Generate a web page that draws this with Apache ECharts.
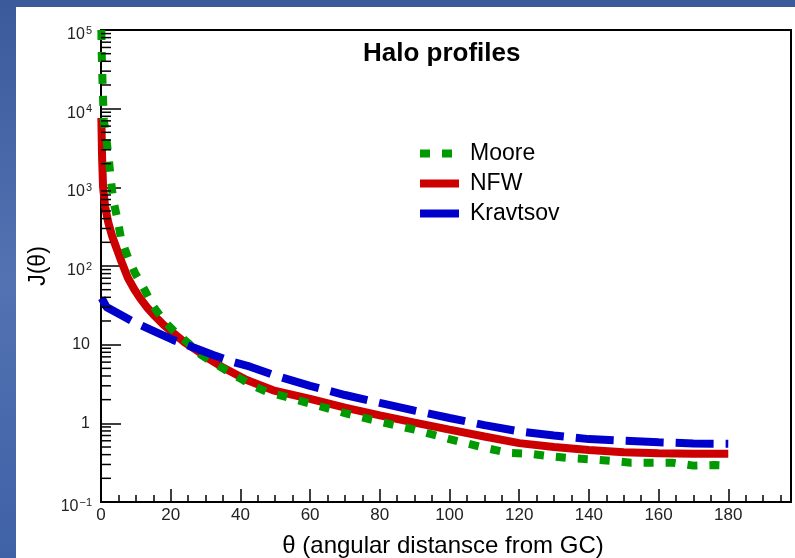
<!DOCTYPE html>
<html><head><meta charset="utf-8">
<script src="https://cdn.jsdelivr.net/npm/echarts@6/dist/echarts.min.js"></script>
<style>html,body{margin:0;padding:0;background:#4a6aa8}#c{width:795px;height:558px}</style>
</head><body><div id="c"></div>
<script>
// ---- data ----
const seriesNames = ['Moore', 'NFW', 'Kravtsov'];
const thetaMoore = [0.1, 0.2, 0.4, 0.6, 0.8, 1.6, 2.3, 2.9, 3.5, 4.8, 5.7, 7.8, 9.8, 12.6, 14.8, 18.1, 21.2, 25, 28.4, 32, 36, 40, 43.6, 48.2, 52.8, 60, 70, 80, 90, 100, 110, 117, 123, 129, 135, 140, 146, 152, 158, 164, 170, 176, 180];
const jMoore = [100000, 52000, 24500, 12900, 7240, 3980, 2140, 1175, 692, 380, 229, 126, 81, 49, 31.6, 20, 14.5, 10.5, 7.6, 6.0, 4.7, 3.7, 3.0, 2.45, 2.19, 1.78, 1.35, 1.05, 0.83, 0.63, 0.49, 0.42, 0.41, 0.38, 0.36, 0.35, 0.335, 0.316, 0.316, 0.316, 0.29, 0.295, 0.29];
const thetaNFW = [0.1, 0.3, 0.6, 1.2, 2.1, 3.2, 4.5, 6, 7.7, 9.5, 11.2, 13.3, 15.5, 18, 20.8, 24, 27.4, 31, 34.6, 41.8, 49.4, 60, 70, 80, 90, 100, 110, 120, 130, 140, 150, 160, 170, 180];
const jNFW = [7600, 2500, 1000, 562, 355, 240, 166, 110, 71, 51, 39, 29.5, 23, 17.8, 14, 10.7, 8.5, 6.6, 5.25, 3.55, 2.63, 2.04, 1.58, 1.26, 1.02, 0.83, 0.68, 0.56, 0.50, 0.457, 0.43, 0.417, 0.41, 0.41];
const thetaKravtsov = [0.2, 1.6, 6.4, 9.3, 16.4, 20.7, 27.5, 32.2, 38, 42.8, 49.9, 60, 70, 80, 90, 100, 110, 120, 130, 140, 150, 160, 170, 180];
const jKravtsov = [39, 30, 23, 19.5, 14, 11.5, 8.9, 7.4, 6.0, 5.25, 4.07, 3.0, 2.29, 1.82, 1.45, 1.17, 0.95, 0.79, 0.70, 0.63, 0.60, 0.575, 0.555, 0.55];
const xTickStep = 20;
const xMinorStep = 5;
const xMin = 0, xMax = 198;
const yMin = 0.1, yMax = 100000;

// minor tick positions of the log axis (2..9 x 10^n)
const yMinorTicks = [];
for (let e = -1; e < 5; e++) for (let m = 2; m <= 9; m++) yMinorTicks.push([0, m * Math.pow(10, e)]);

const zip = (xs, ys) => xs.map((x, i) => [x, ys[i]]);
const FONT = 'Liberation Sans';

const chart = echarts.init(document.getElementById('c'), null, {renderer: 'canvas'});
chart.setOption({
  animation: false,
  backgroundColor: {type: 'linear', x: 0, y: 0, x2: 0, y2: 1, colorStops: [
    {offset: 0, color: '#3a5a9b'}, {offset: 0.5, color: '#5272b2'}, {offset: 1, color: '#3f61a6'}]},
  graphic: [{type: 'rect', left: 16, top: 7, z: -100, shape: {width: 779, height: 551}, style: {fill: '#ffffff'}, silent: true}],
  title: {text: 'Halo profiles', left: 363, top: 41, padding: 0,
    textStyle: {fontFamily: FONT, fontWeight: 'bold', fontSize: 26, color: '#000'}},
  legend: {
    orient: 'vertical', left: 416, top: 142, padding: 0, itemWidth: 39, itemHeight: 23, itemGap: 7,
    textStyle: {fontFamily: FONT, fontSize: 23, color: '#000', padding: [0, 0, 0, 6]},
    data: [
      {name: 'Moore', lineStyle: {width: 8, type: [10, 12]}, itemStyle: {opacity: 0}},
      {name: 'NFW', lineStyle: {width: 8, type: 'solid'}, itemStyle: {opacity: 0}},
      {name: 'Kravtsov', lineStyle: {width: 8, type: 'solid'}, itemStyle: {opacity: 0}}
    ]
  },
  grid: {left: 101, top: 30, right: 4, bottom: 56, outerBoundsMode: 'none', containLabel: false,
    show: true, borderColor: '#000', borderWidth: 2, backgroundColor: 'transparent'},
  xAxis: [{
    type: 'value', min: xMin, max: xMax, interval: xTickStep, position: 'bottom',
    axisLine: {show: true, onZero: false, lineStyle: {color: '#000', width: 2}},
    axisTick: {show: true, inside: true, length: 13, lineStyle: {color: '#000', width: 1.5}},
    splitLine: {show: false},
    axisLabel: {showMaxLabel: false, margin: 5, fontFamily: FONT, fontSize: 17, color: '#222'},
    name: 'θ (angular distansce from GC)', nameLocation: 'middle', nameGap: 32, nameMoveOverlap: false,
    nameTextStyle: {fontFamily: FONT, fontSize: 24, color: '#000', padding: [0, 6, 0, 0]}
  }, {
    type: 'value', min: xMin, max: xMax, interval: xMinorStep, position: 'bottom',
    axisLine: {show: false}, axisLabel: {show: false}, splitLine: {show: false},
    axisTick: {show: true, inside: true, length: 7, lineStyle: {color: '#000', width: 1.5}}
  }],
  yAxis: {
    type: 'log', logBase: 10, min: yMin, max: yMax,
    axisLine: {show: true, onZero: false, lineStyle: {color: '#000', width: 2}},
    axisTick: {show: true, inside: true, length: 20, lineStyle: {color: '#000', width: 1.5}},
    splitLine: {show: false}, minorTick: {show: false},
    axisLabel: {
      margin: 9, color: '#222', fontFamily: FONT,
      formatter: function (v) {
        const e = Math.round(Math.log10(v));
        if (e === 0) return '{c|1}';
        if (e === 1) return '{c|10}';
        return '{b|10}{s|' + String(e).replace('-', '−') + '}';
      },
      rich: {
        b: {fontFamily: FONT, fontSize: 16, lineHeight: 16, color: '#222', padding: [9, 0, 0, 0]},
        s: {fontFamily: FONT, fontSize: 11, lineHeight: 11, color: '#222', verticalAlign: 'top', padding: [3, 0, 0, 1]},
        c: {fontFamily: FONT, fontSize: 16, lineHeight: 16, color: '#222', padding: [0, 2, 0, 0]}
      }
    },
    name: 'J(θ)', nameLocation: 'middle', nameGap: 49, nameRotate: 90,
    nameTextStyle: {fontFamily: FONT, fontSize: 23, color: '#000'}
  },
  series: [
    {name: 'NFW', type: 'line', z: 2, symbol: 'none', smooth: false, data: zip(thetaNFW, jNFW),
      lineStyle: {color: '#cc0000', width: 8}, itemStyle: {color: '#cc0000'}},
    {name: 'Moore', type: 'line', z: 3, symbol: 'none', smooth: false, data: zip(thetaMoore, jMoore),
      lineStyle: {color: '#009900', width: 8, type: [10, 12]}, itemStyle: {color: '#009900'}},
    {name: 'Kravtsov', type: 'line', z: 4, symbol: 'none', smooth: false, data: zip(thetaKravtsov, jKravtsov),
      lineStyle: {color: '#0000cc', width: 8, type: [38, 12]}, itemStyle: {color: '#0000cc'}},
    {type: 'custom', name: 'yminor', z: 5, silent: true, clip: false, data: yMinorTicks,
      renderItem: function (params, api) {
        const p = api.coord([api.value(0), api.value(1)]);
        return {type: 'line', shape: {x1: p[0], y1: p[1], x2: p[0] + 10, y2: p[1]},
          style: {stroke: '#000', lineWidth: 1.5}};
      }}
  ]
});
</script></body></html>
